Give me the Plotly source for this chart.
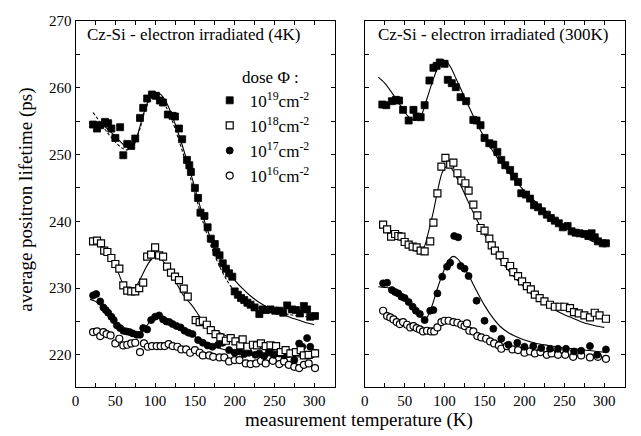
import plotly.graph_objects as go

# ---------------- measured data: Cz-Si, electron irradiated at 4 K ----------------
t4_19 = [22, 27, 31, 37, 41, 45, 50, 56, 60, 65,
         70, 75, 81, 85, 90, 96, 101, 106, 110, 116,
         122, 125, 130, 134, 140, 143, 145, 150, 154, 157,
         162, 166, 170, 175, 177, 181, 185, 189, 193, 197,
         200, 204, 208, 212, 216, 220, 225, 231, 235, 239,
         245, 251, 256, 261, 266, 272, 277, 282, 287, 291,
         295, 301]
tau4_19 = [254.5, 253.9, 254.4, 254.9, 254.7, 253.9, 252.5, 254.1, 249.9, 251.6,
           251.3, 252.4, 255.5, 257.0, 258.4, 259.0, 258.8, 258.1, 257.8, 256.0,
           255.8, 255.7, 253.9, 252.3, 249.2, 248.4, 247.4, 245.0, 243.5, 241.3,
           240.8, 239.1, 237.4, 236.6, 235.4, 234.9, 233.7, 232.9, 232.2, 231.7,
           229.5, 229.0, 228.5, 228.2, 227.8, 227.5, 227.1, 226.1, 226.8, 226.7,
           226.8, 226.6, 226.6, 226.3, 227.4, 226.8, 226.7, 226.2, 227.3, 226.8,
           225.7, 225.8]

t4_18 = [22, 27, 32, 36, 40, 45, 50, 55, 60, 65,
         70, 75, 80, 85, 90, 95, 100, 105, 110, 115,
         120, 125, 130, 136, 141, 151, 156, 160, 165, 170,
         176, 182, 189, 195, 201, 207, 210, 216, 223, 228,
         233, 239, 245, 252, 258, 264, 270, 277, 283, 287,
         293, 301]
tau4_18 = [237.0, 237.1, 236.7, 235.6, 235.4, 234.5, 233.6, 232.9, 230.4, 229.6,
           229.5, 229.5, 230.0, 230.8, 234.7, 235.0, 236.1, 234.9, 234.7, 233.2,
           232.3, 231.7, 231.2, 229.9, 228.7, 225.2, 224.9, 225.1, 224.5, 223.7,
           223.1, 222.6, 222.1, 222.5, 222.0, 221.4, 222.3, 221.2, 221.5, 221.4,
           221.7, 221.3, 221.4, 221.3, 220.4, 220.7, 220.2, 220.4, 220.7, 219.9,
           220.0, 220.2]

t4_17 = [22, 26, 31, 35, 38, 41, 45, 48, 52, 56,
         60, 64, 68, 72, 77, 81, 85, 90, 95, 100,
         105, 110, 114, 118, 122, 127, 132, 137, 142, 147,
         154, 160, 166, 172, 179, 185, 193, 200, 206, 212,
         218, 226, 231, 237, 243, 249, 256, 262, 268, 275,
         281, 285, 291, 295, 301]
tau4_17 = [228.9, 229.1, 228.0, 227.1, 226.7, 226.3, 225.7, 225.2, 224.4, 224.0,
           223.6, 223.5, 223.4, 223.2, 223.0, 223.0, 224.0, 223.8, 225.2, 225.7,
           225.9, 225.3, 225.0, 224.9, 224.6, 224.3, 224.1, 223.6, 223.3, 223.1,
           222.2, 221.8, 221.4, 221.2, 221.5, 221.8, 220.7, 220.3, 220.5, 220.1,
           220.3, 220.0, 220.2, 219.8, 220.4, 220.0, 220.2, 219.9, 220.1, 219.2,
           221.7, 221.2, 222.5, 221.2, 220.3]

t4_16 = [22, 27, 31, 35, 39, 44, 50, 55, 60, 65,
         70, 75, 81, 86, 91, 96, 102, 107, 112, 117,
         122, 128, 133, 139, 144, 150, 156, 160, 168, 173,
         181, 187, 193, 200, 206, 214, 220, 227, 233, 239,
         248, 256, 262, 268, 275, 281, 287, 293, 301]
tau4_16 = [223.4, 223.5, 222.8, 223.4, 223.1, 222.9, 221.7, 222.4, 221.4, 221.5,
           221.7, 221.8, 220.4, 221.7, 221.2, 221.3, 221.3, 221.3, 221.3, 221.6,
           221.3, 221.2, 220.8, 220.8, 220.3, 220.7, 220.3, 219.9, 219.9, 219.7,
           219.6, 219.6, 219.0, 219.2, 219.2, 218.7, 218.6, 218.7, 219.1, 218.7,
           219.1, 218.6, 219.0, 218.5, 218.2, 218.0, 218.5, 218.7, 218.0]

# ---------------- measured data: Cz-Si, electron irradiated at 300 K ----------------
t300_19 = [22, 27, 34, 39, 43, 48, 55, 61, 65, 70,
           75, 81, 86, 90, 94, 100, 104, 109, 114, 120,
           127, 136, 140, 145, 150, 156, 161, 166, 171, 176,
           182, 187, 192, 196, 202, 207, 212, 217, 222, 228,
           233, 238, 243, 248, 254, 259, 264, 269, 275, 280,
           284, 288, 292, 298, 302]
tau300_19 = [257.5, 257.4, 258.0, 258.2, 258.1, 256.7, 255.1, 256.7, 255.7, 255.6,
             257.4, 261.1, 263.0, 263.3, 263.8, 263.6, 261.2, 260.7, 260.1, 258.6,
             258.0, 255.2, 255.1, 254.4, 252.5, 251.7, 251.5, 250.4, 249.2, 248.4,
             247.7, 246.7, 245.9, 244.2, 244.0, 243.4, 242.4, 242.1, 241.5, 241.0,
             240.5, 240.1, 239.7, 239.1, 239.3, 238.5, 238.3, 238.2, 238.1, 237.8,
             238.2, 237.6, 237.0, 236.7, 236.7]

t300_18 = [23, 28, 33, 38, 42, 46, 50, 55, 60, 65,
           70, 75, 82, 86, 91, 96, 101, 107, 111, 116,
           121, 126, 130, 136, 141, 145, 150, 156, 159, 163,
           169, 175, 182, 186, 192, 197, 203, 208, 213, 219,
           225, 232, 238, 244, 250, 257, 262, 268, 275, 282,
           288, 294, 302]
tau300_18 = [239.5, 238.8, 237.7, 238.1, 237.8, 237.7, 236.9, 236.5, 236.2, 236.1,
             235.6, 235.5, 237.0, 239.8, 244.2, 248.2, 249.5, 248.5, 248.8, 247.2,
             246.1, 245.7, 244.6, 242.5, 240.9, 239.0, 238.6, 237.4, 236.4, 235.6,
             234.9, 233.9, 233.3, 232.4, 231.8, 231.0, 230.3, 229.8, 229.0, 228.5,
             228.0, 227.5, 227.2, 227.2, 227.2, 227.0, 226.4, 226.2, 225.9, 225.6,
             226.3, 225.9, 225.4]

t300_17 = [23, 28, 34, 38, 42, 46, 50, 55, 60, 64,
           69, 75, 82, 86, 91, 97, 103, 107, 112, 117,
           120, 125, 130, 140, 150, 161, 171, 180, 191, 200,
           211, 221, 232, 242, 252, 262, 271, 282, 291, 302]
tau300_17 = [230.7, 230.8, 229.7, 229.4, 229.2, 228.7, 228.5, 227.9, 227.2, 226.6,
             226.1, 225.2, 226.6, 226.7, 229.2, 231.7, 233.2, 233.8, 237.8, 237.6,
             233.3, 232.9, 231.8, 228.1, 225.1, 223.9, 222.4, 221.5, 221.8, 221.2,
             221.3, 221.0, 220.9, 220.9, 220.9, 220.5, 220.6, 221.3, 220.0, 220.8]

t300_16 = [23, 28, 32, 36, 40, 44, 48, 53, 57, 61,
           65, 69, 73, 78, 83, 87, 91, 96, 100, 105,
           111, 116, 121, 125, 128, 131, 136, 141, 146, 152,
           157, 162, 168, 171, 178, 185, 192, 200, 207, 213,
           220, 228, 234, 242, 251, 261, 271, 282, 292, 302]
tau300_16 = [226.6, 225.8, 225.6, 225.3, 224.9, 224.6, 224.9, 224.5, 224.1, 224.3,
             224.0, 223.8, 223.5, 223.6, 223.5, 223.5, 224.1, 224.9, 225.1, 225.1,
             224.9, 224.8, 224.5, 224.3, 224.7, 223.6, 223.5, 222.8, 222.6, 222.4,
             222.0, 221.7, 221.4, 220.9, 221.3, 220.8, 220.7, 220.3, 220.5, 220.2,
             220.4, 220.0, 220.2, 220.0, 220.0, 219.7, 219.9, 219.6, 219.7, 219.4]

# ---------------- model curves ----------------
fit4_19_T = [18, 25, 35, 45, 55, 62, 68, 74, 80, 86, 92, 98, 103, 108, 115, 122, 130,
             140, 150, 160, 170, 180, 190, 200, 210, 220, 230, 240, 250, 260, 270,
             280, 290, 300]
fit4_19 = [254.2, 254.4, 254.3, 253.3, 252.1, 251.3, 251.0, 251.6, 253.8, 256.3, 258.2,
           259.1, 259.3, 258.9, 257.6, 255.6, 252.9, 249.1, 245.0, 240.8, 237.4, 234.8,
           232.8, 231.2, 229.9, 228.8, 227.9, 227.2, 226.6, 226.1, 225.6, 225.2, 224.8,
           224.5]
fit4_19b_T = [22, 30, 40, 50, 58, 64, 70, 76, 82, 88, 95, 100, 106, 114, 122, 130, 140,
              150, 160, 170, 180, 190, 200, 210, 220, 230, 240, 250, 260, 270, 280,
              290, 300]
fit4_19b = [256.3, 255.0, 253.3, 251.9, 251.0, 250.7, 251.0, 252.2, 254.3, 256.8, 258.4,
            258.7, 258.5, 257.1, 254.9, 252.1, 248.3, 244.2, 240.0, 236.4, 233.5, 231.2,
            229.5, 228.3, 227.5, 227.0, 226.6, 226.4, 226.2, 226.0, 225.8, 225.7, 225.6]
fit4_18_T = [20, 30, 40, 50, 57, 63, 69, 75, 82, 90, 97, 102, 108, 116, 125, 135, 147,
             160, 175, 190, 205, 220, 240, 260, 280, 300]
fit4_18 = [237.0, 236.6, 235.3, 233.5, 231.3, 229.9, 229.5, 230.0, 231.5, 233.4, 234.5,
           234.7, 234.3, 233.0, 231.1, 229.0, 227.3, 225.1, 223.7, 222.8, 222.0, 221.4,
           220.8, 220.4, 220.1, 219.9]
fit4_17_T = [18, 25, 32, 40, 48, 56, 64, 72, 79, 86, 93, 100, 106, 113, 122, 132, 142,
             152, 165, 180, 200, 225, 250, 275, 300]
fit4_17 = [228.3, 228.0, 227.3, 226.2, 225.1, 224.2, 223.6, 223.2, 223.1, 223.8, 224.9,
           225.5, 225.5, 225.1, 224.5, 223.9, 223.3, 222.6, 221.8, 221.0, 220.4, 220.0,
           219.8, 219.7, 219.6]

fit300_19_T = [17, 25, 35, 45, 53, 60, 66, 72, 78, 85, 92, 97, 102, 108, 115, 125, 135,
               145, 155, 165, 175, 185, 195, 205, 215, 225, 235, 245, 255, 265, 275,
               285, 295, 300]
fit300_19 = [261.6, 260.7, 259.1, 257.3, 255.9, 255.2, 255.2, 256.2, 258.4, 261.0, 263.2,
             264.1, 264.0, 263.0, 261.2, 258.6, 256.0, 253.6, 251.5, 249.7, 248.1, 246.6,
             245.2, 243.9, 242.8, 241.7, 240.7, 239.8, 239.0, 238.3, 237.6, 237.0, 236.5,
             236.3]
fit300_18_T = [20, 30, 40, 50, 58, 65, 70, 75, 80, 86, 92, 97, 103, 108, 114, 122, 130,
               140, 150, 160, 170, 180, 190, 200, 210, 220, 230, 240, 250, 260, 270,
               280, 290, 300]
fit300_18 = [239.6, 238.8, 237.7, 236.6, 235.9, 235.5, 235.5, 236.3, 238.5, 241.5, 245.0,
             247.3, 248.3, 248.0, 246.8, 244.9, 242.8, 240.3, 238.0, 236.0, 234.2, 232.6,
             231.3, 230.1, 229.0, 228.1, 227.3, 226.6, 226.0, 225.5, 225.0, 224.6, 224.3,
             224.1]
fit300_17_T = [17, 25, 35, 42, 50, 58, 65, 71, 75, 79, 85, 92, 100, 106, 111, 116, 122,
               130, 140, 150, 160, 170, 180, 190, 200, 215, 230, 250, 270, 290, 300]
fit300_17 = [230.2, 230.1, 229.9, 229.5, 228.6, 227.5, 226.5, 225.7, 225.3, 225.8, 227.6,
             230.3, 232.9, 234.3, 234.75, 234.4, 233.5, 231.9, 229.6, 227.4, 225.6, 224.2,
             223.3, 222.7, 222.2, 221.7, 221.4, 221.0, 220.8, 220.5, 220.4]

dose_labels = ["10<sup>19</sup>cm<sup>-2</sup>", "10<sup>18</sup>cm<sup>-2</sup>",
               "10<sup>17</sup>cm<sup>-2</sup>", "10<sup>16</sup>cm<sup>-2</sup>"]
panel_titles = ["Cz-Si - electron irradiated (4K)", "Cz-Si - electron irradiated (300K)"]
y_ticks = [220, 230, 240, 250, 260, 270]
x_ticks = [0, 50, 100, 150, 200, 250, 300]

SERIF = "Liberation Serif"
W, H = 641, 436

marker_styles = [
    dict(symbol="square", size=7, color="black", line=dict(width=0.8, color="black")),
    dict(symbol="square", size=7, color="white", line=dict(width=1.2, color="black")),
    dict(symbol="circle", size=7, color="black", line=dict(width=0.8, color="black")),
    dict(symbol="circle", size=7, color="white", line=dict(width=1.2, color="black")),
]

fig = go.Figure()

def add_fit(T, v, xa, ya, dash="solid"):
    fig.add_trace(go.Scatter(x=T, y=v, mode="lines", xaxis=xa, yaxis=ya,
                             line=dict(color="black", width=1.1, dash=dash, shape="spline",
                                       smoothing=0.8),
                             showlegend=False, hoverinfo="skip"))

# fit curves first so the markers sit on top
add_fit(fit4_19_T, fit4_19, "x", "y")
add_fit(fit4_19b_T, fit4_19b, "x", "y", dash="3px,2px")
add_fit(fit4_18_T, fit4_18, "x", "y")
add_fit(fit4_17_T, fit4_17, "x", "y")
add_fit(fit300_19_T, fit300_19, "x2", "y2")
add_fit(fit300_18_T, fit300_18, "x2", "y2")
add_fit(fit300_17_T, fit300_17, "x2", "y2")

series_4K = [(t4_19, tau4_19), (t4_18, tau4_18), (t4_17, tau4_17), (t4_16, tau4_16)]
series_300K = [(t300_19, tau300_19), (t300_18, tau300_18), (t300_17, tau300_17),
               (t300_16, tau300_16)]

# draw lowest dose first so higher-dose symbols overlay
for i in reversed(range(4)):
    T, v = series_4K[i]
    fig.add_trace(go.Scatter(x=T, y=v, mode="markers", xaxis="x", yaxis="y",
                             marker=marker_styles[i], name=dose_labels[i],
                             legendrank=i + 1, showlegend=True))
    T, v = series_300K[i]
    fig.add_trace(go.Scatter(x=T, y=v, mode="markers", xaxis="x2", yaxis="y2",
                             marker=marker_styles[i], name=dose_labels[i],
                             showlegend=False))

def px_x(p):
    return p / W

def px_y(p):
    return 1 - p / H

axis_common = dict(
    showline=True, linecolor="black", linewidth=1, mirror="allticks",
    ticks="inside", ticklen=4, tickwidth=1, tickcolor="black",
    showgrid=False, zeroline=False,
    tickfont=dict(family=SERIF, size=15, color="black"),
)

xr = [0, 326]
yr = [215.2, 270.05]

fig.update_layout(
    width=W, height=H,
    margin=dict(l=0, r=0, t=0, b=0),
    paper_bgcolor="white", plot_bgcolor="white",
    font=dict(family=SERIF, color="black"),
    xaxis=dict(domain=[px_x(72), px_x(333)], range=xr, anchor="y",
               tickvals=x_ticks, minor=dict(dtick=25, tick0=0, ticks="inside", ticklen=4,
                                            tickcolor="black"),
               **axis_common),
    yaxis=dict(domain=[px_y(386), px_y(14)], range=yr, anchor="x",
               tickvals=y_ticks, minor=dict(dtick=5, tick0=215, ticks="inside", ticklen=4,
                                            tickcolor="black"),
               **axis_common),
    xaxis2=dict(domain=[px_x(363), px_x(625)], range=xr, anchor="y2",
                tickvals=x_ticks, minor=dict(dtick=25, tick0=0, ticks="inside", ticklen=4,
                                             tickcolor="black"),
                **axis_common),
    yaxis2=dict(domain=[px_y(386), px_y(14)], range=yr, anchor="x2",
                tickvals=y_ticks, showticklabels=False,
                minor=dict(dtick=5, tick0=215, ticks="inside", ticklen=4,
                           tickcolor="black"),
                **axis_common),
    legend=dict(x=px_x(207), y=px_y(77), xanchor="left", yanchor="top",
                bgcolor="rgba(0,0,0,0)", borderwidth=0,
                font=dict(family=SERIF, size=17, color="black"),
                tracegroupgap=0, itemwidth=30),
    showlegend=True,
)

annotations = [
    dict(text=panel_titles[0], x=px_x(82), y=px_y(28), xanchor="left", yanchor="middle"),
    dict(text=panel_titles[1], x=px_x(374), y=px_y(28), xanchor="left", yanchor="middle"),
    dict(text="dose \u03a6 :", x=px_x(237), y=px_y(72), xanchor="left", yanchor="middle"),
]
for a in annotations:
    a.update(xref="paper", yref="paper", showarrow=False,
             font=dict(family=SERIF, size=17, color="black"))
fig.add_annotation(**annotations[0])
fig.add_annotation(**annotations[1])
fig.add_annotation(**annotations[2])

fig.add_annotation(text="average positron lifetime (ps)", x=px_x(22), y=px_y(196),
                   xref="paper", yref="paper", textangle=-90, showarrow=False,
                   xanchor="center", yanchor="middle",
                   font=dict(family=SERIF, size=19, color="black"))
fig.add_annotation(text="measurement temperature (K)", x=px_x(357), y=px_y(420),
                   xref="paper", yref="paper", showarrow=False,
                   xanchor="center", yanchor="middle",
                   font=dict(family=SERIF, size=19, color="black"))

fig.write_html("out.html")
